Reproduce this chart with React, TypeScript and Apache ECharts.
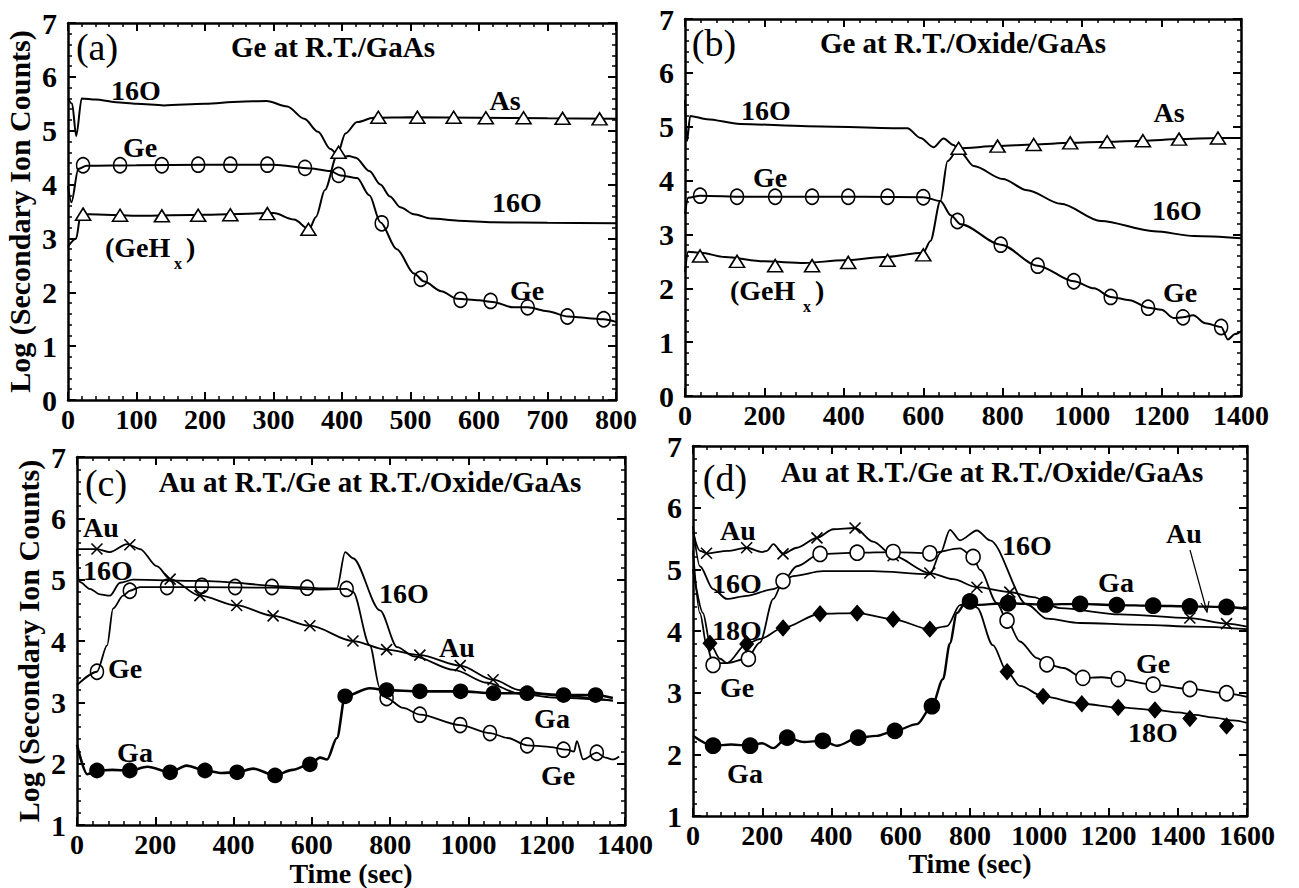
import React, { useEffect, useRef } from "react";
import * as echarts from "echarts";

const FONT = '"Liberation Serif", "Times New Roman", serif';

const xTicksA = [0, 100, 200, 300, 400, 500, 600, 700, 800];
const xTicksB = [0, 200, 400, 600, 800, 1000, 1200, 1400];
const xTicksC = [0, 200, 400, 600, 800, 1000, 1200, 1400];
const xTicksD = [0, 200, 400, 600, 800, 1000, 1200, 1400, 1600];
const yTicksAB = [0, 1, 2, 3, 4, 5, 6, 7];
const yTicksCD = [1, 2, 3, 4, 5, 6, 7];

const aO16 = [[0,5.6],[6,5.5],[12,4.9],[20,5.6],[40,5.58],[70,5.53],[100,5.5],[140,5.47],[200,5.5],[250,5.54],[290,5.55],[320,5.45],[345,5.22],[365,4.98],[383,4.66],[398,4.5],[410,4.53],[420,4.5],[440,4.25],[456,4.0],[470,3.78],[485,3.58],[505,3.45],[530,3.37],[570,3.33],[620,3.3],[700,3.29],[800,3.28]];
const aGe = [[0,3.97],[5,3.67],[15,4.29],[27,4.35],[100,4.36],[200,4.37],[300,4.37],[354,4.3],[383,4.25],[398,4.17],[422,4.12],[440,3.8],[456,3.3],[480,2.8],[505,2.35],[520,2.2],[545,2.02],[568,1.88],[600,1.85],[620,1.82],[650,1.72],[671,1.72],[700,1.65],[730,1.55],[760,1.52],[782,1.5],[800,1.45]];
const aGeMarks = [[22,4.36],[76,4.36],[137,4.36],[190,4.37],[237,4.37],[291,4.37],[346,4.31],[395,4.18],[458,3.28],[515,2.25],[573,1.86],[617,1.84],[671,1.72],[729,1.55],[782,1.5]];
const aAs = [[0,2.85],[12,3.0],[18,3.41],[30,3.45],[100,3.42],[200,3.44],[300,3.47],[330,3.35],[352,3.17],[362,3.4],[375,3.9],[393,4.55],[405,4.95],[422,5.16],[446,5.24],[500,5.25],[600,5.24],[700,5.23],[800,5.22]];
const aAsMarks = [[22,3.45],[76,3.43],[137,3.42],[190,3.43],[237,3.44],[291,3.46],[351,3.17],[395,4.6],[453,5.25],[510,5.25],[563,5.25],[610,5.24],[665,5.24],[722,5.23],[776,5.22]];

const bO16 = [[0,5.5],[5,4.73],[13,5.2],[55,5.14],[139,5.05],[308,5.01],[560,4.97],[593,4.79],[626,4.62],[651,4.78],[676,4.66],[694,4.52],[727,4.27],[800,4.03],[862,3.82],[946,3.57],[1047,3.25],[1181,3.06],[1282,2.97],[1400,2.93]];
const bGe = [[0,3.38],[8,3.68],[38,3.72],[150,3.7],[300,3.7],[450,3.7],[600,3.69],[643,3.62],[670,3.35],[694,3.19],[795,2.81],[888,2.42],[979,2.13],[1030,2.0],[1072,1.84],[1120,1.78],[1166,1.64],[1200,1.6],[1230,1.45],[1254,1.46],[1280,1.5],[1310,1.35],[1350,1.28],[1367,1.05],[1385,1.15],[1400,1.2]];
const bGeMarks = [[38,3.72],[131,3.7],[227,3.7],[320,3.7],[411,3.7],[510,3.7],[600,3.69],[686,3.25],[795,2.81],[888,2.42],[979,2.13],[1072,1.84],[1166,1.64],[1254,1.46],[1350,1.28]];
const bAs = [[0,2.3],[8,2.68],[40,2.66],[100,2.58],[200,2.5],[300,2.47],[400,2.52],[500,2.58],[600,2.66],[618,2.88],[643,3.62],[661,4.36],[689,4.6],[787,4.64],[878,4.67],[970,4.7],[1063,4.72],[1153,4.74],[1244,4.77],[1342,4.79],[1400,4.79]];
const bAsMarks = [[38,2.6],[131,2.5],[227,2.42],[320,2.42],[411,2.48],[510,2.52],[600,2.62],[689,4.6],[787,4.64],[878,4.67],[970,4.7],[1063,4.72],[1153,4.74],[1244,4.77],[1342,4.79]];

const cAu = [[0,5.5],[25,5.5],[51,5.5],[84,5.45],[128,5.58],[161,5.5],[204,5.22],[238,5.01],[314,4.74],[408,4.58],[501,4.41],[595,4.25],[705,4.0],[791,3.86],[876,3.77],[979,3.6],[1063,3.37],[1132,3.2],[1216,3.12],[1369,3.03]];
const cAuMarks = [[51,5.5],[135,5.57],[238,5.01],[314,4.74],[408,4.58],[501,4.41],[595,4.25],[705,4.0],[791,3.86],[876,3.77],[979,3.6],[1063,3.37]];
const cO16 = [[0,5.5],[4,5.0],[8,4.96],[33,4.85],[59,4.76],[84,4.74],[110,4.95],[143,5.0],[314,4.98],[570,4.88],[621,4.86],[664,4.86],[685,5.45],[705,5.35],[774,4.5],[818,3.9],[861,3.75],[963,3.53],[1047,3.32],[1132,3.14],[1216,3.08],[1369,3.03]];
const cGe = [[0,3.28],[51,3.5],[77,3.93],[92,4.53],[118,4.74],[135,4.82],[161,4.88],[300,4.88],[500,4.87],[621,4.84],[689,4.85],[705,4.8],[748,3.93],[774,3.23],[791,3.07],[833,2.91],[876,2.8],[979,2.63],[1055,2.5],[1100,2.42],[1150,2.3],[1200,2.28],[1252,2.23],[1270,2.2],[1277,2.37],[1293,2.07],[1328,2.18],[1350,2.1],[1369,2.07],[1385,2.12]];
const cGeMarks = [[51,3.5],[135,4.82],[230,4.88],[319,4.9],[404,4.88],[498,4.88],[588,4.87],[689,4.85],[791,3.07],[876,2.8],[979,2.63],[1055,2.5],[1150,2.3],[1243,2.23],[1328,2.18]];
const cGa = [[0,2.31],[26,1.83],[51,1.89],[90,1.9],[135,1.89],[180,1.95],[238,1.86],[280,1.97],[327,1.89],[370,1.85],[409,1.86],[450,1.92],[506,1.81],[550,1.9],[595,1.99],[621,2.1],[639,2.07],[664,2.42],[685,3.1],[748,3.23],[791,3.2],[876,3.18],[980,3.18],[1064,3.15],[1150,3.15],[1243,3.12],[1325,3.12],[1369,3.07]];
const cGaMarks = [[51,1.89],[135,1.89],[238,1.86],[327,1.89],[409,1.86],[506,1.81],[595,1.99],[685,3.1],[791,3.2],[876,3.18],[980,3.18],[1064,3.15],[1150,3.15],[1243,3.12],[1325,3.12]];

const dAu = [[0,5.6],[20,5.3],[39,5.26],[100,5.3],[155,5.35],[200,5.28],[213,5.3],[232,5.41],[260,5.25],[300,5.35],[358,5.51],[405,5.65],[468,5.67],[520,5.45],[578,5.22],[684,4.94],[751,4.84],[820,4.71],[915,4.63],[982,4.55],[1060,4.37],[1233,4.27],[1435,4.21],[1541,4.12],[1600,4.07]];
const dAuMarks = [[39,5.26],[155,5.35],[260,5.25],[358,5.51],[468,5.67],[578,5.22],[684,4.94],[820,4.71],[915,4.63],[1435,4.21],[1541,4.12]];
const dO16 = [[0,5.7],[20,5.05],[58,4.68],[98,4.52],[155,4.57],[232,4.68],[289,4.89],[375,4.97],[520,4.97],[684,4.92],[715,5.27],[742,5.64],[771,5.47],[820,5.63],[858,5.47],[965,4.43],[1022,4.2],[1118,4.13],[1300,4.1],[1450,4.07],[1600,4.03]];
const dGe = [[0,5.3],[20,4.29],[40,3.75],[58,3.48],[98,3.48],[155,3.55],[193,3.81],[232,4.52],[260,4.81],[300,5.05],[367,5.25],[474,5.27],[578,5.28],[684,5.26],[771,5.34],[809,5.2],[829,4.99],[878,4.45],[907,4.17],[944,3.83],[994,3.56],[1022,3.46],[1070,3.4],[1126,3.24],[1180,3.25],[1228,3.22],[1329,3.13],[1435,3.06],[1541,2.99],[1600,2.93]];
const dGeMarks = [[58,3.45],[160,3.55],[260,4.81],[367,5.25],[474,5.27],[578,5.28],[684,5.26],[809,5.2],[907,4.17],[1022,3.46],[1126,3.24],[1228,3.22],[1329,3.13],[1435,3.06],[1541,2.99]];
const dO18 = [[0,5.0],[29,4.29],[49,3.8],[78,3.55],[98,3.48],[155,3.79],[193,3.87],[260,4.05],[367,4.28],[474,4.29],[578,4.19],[684,4.03],[734,4.08],[771,4.42],[800,4.49],[820,4.38],[866,3.77],[907,3.34],[944,3.11],[1011,2.94],[1123,2.82],[1228,2.76],[1334,2.72],[1400,2.68],[1450,2.64],[1500,2.6],[1560,2.55],[1600,2.51]];
const dO18Marks = [[49,3.8],[155,3.79],[260,4.05],[367,4.28],[474,4.29],[578,4.19],[684,4.03],[907,3.34],[1011,2.94],[1123,2.82],[1228,2.76],[1334,2.72],[1435,2.58],[1541,2.46]];
const dGa = [[0,2.3],[58,2.14],[110,2.16],[165,2.14],[200,2.18],[232,2.1],[272,2.27],[320,2.2],[375,2.22],[416,2.14],[477,2.27],[530,2.3],[583,2.38],[647,2.49],[690,2.78],[722,3.22],[742,3.8],[762,4.29],[791,4.49],[809,4.42],[907,4.45],[1011,4.43],[1118,4.44],[1224,4.42],[1329,4.41],[1435,4.4],[1541,4.39],[1600,4.36]];
const dGaMarks = [[58,2.14],[165,2.14],[272,2.27],[375,2.22],[477,2.27],[583,2.38],[690,2.78],[800,4.48],[910,4.45],[1017,4.43],[1118,4.44],[1224,4.42],[1329,4.41],[1435,4.4],[1541,4.39]];

const CROSS = "path://M0,0L10,10M10,0L0,10";

const grids = [
  { left: 68, top: 23, width: 548, height: 377 },
  { left: 685, top: 19, width: 556, height: 377 },
  { left: 77, top: 457, width: 548, height: 371 },
  { left: 693, top: 446, width: 554, height: 370 },
];

type Curve = { line: number[][]; marks?: number[][]; symbol?: string; size?: any; fill?: string; lw?: number };

const panels: { xt: number[]; yt: number[]; curves: Curve[]; xName?: string; yName?: string }[] = [
  {
    xt: xTicksA, yt: yTicksAB, yName: "Log (Secondary Ion Counts)",
    curves: [
      { line: aO16 },
      { line: aGe, marks: aGeMarks, symbol: "circle", size: [13, 15], fill: "transparent" },
      { line: aAs, marks: aAsMarks, symbol: "triangle", size: [15, 12], fill: "#fff" },
    ],
  },
  {
    xt: xTicksB, yt: yTicksAB,
    curves: [
      { line: bO16 },
      { line: bGe, marks: bGeMarks, symbol: "circle", size: [13, 15], fill: "transparent" },
      { line: bAs, marks: bAsMarks, symbol: "triangle", size: [15, 12], fill: "#fff" },
    ],
  },
  {
    xt: xTicksC, yt: yTicksCD, yName: "Log (Secondary Ion Counts)", xName: "Time (sec)",
    curves: [
      { line: cO16, lw: 1.8 },
      { line: cAu, marks: cAuMarks, symbol: CROSS, size: 11, fill: "transparent", lw: 1.8 },
      { line: cGe, marks: cGeMarks, symbol: "circle", size: [13, 15], fill: "transparent", lw: 1.8 },
      { line: cGa, marks: cGaMarks, symbol: "circle", size: 14, fill: "#000", lw: 2.6 },
    ],
  },
  {
    xt: xTicksD, yt: yTicksCD, xName: "Time (sec)",
    curves: [
      { line: dO16, lw: 1.8 },
      { line: dAu, marks: dAuMarks, symbol: CROSS, size: 11, fill: "transparent", lw: 1.8 },
      { line: dGe, marks: dGeMarks, symbol: "circle", size: [14, 15], fill: "#fff", lw: 1.8 },
      { line: dO18, marks: dO18Marks, symbol: "diamond", size: [13, 15], fill: "#000", lw: 1.8 },
      { line: dGa, marks: dGaMarks, symbol: "circle", size: 15, fill: "#000", lw: 2.4 },
    ],
  },
];

const labelStyle = { fontFamily: FONT, fontWeight: "bold" as const, fontSize: 28, color: "#000" };
const plain = (v: number) => String(v);

function buildOption() {
  const xAxis: any[] = [];
  const yAxis: any[] = [];
  const series: any[] = [];
  panels.forEach((p, i) => {
    const xmin = p.xt[0], xmax = p.xt[p.xt.length - 1], xint = p.xt[1] - p.xt[0];
    const ymin = p.yt[0], ymax = p.yt[p.yt.length - 1];
    const common = {
      type: "value", gridIndex: i, splitLine: { show: false },
      axisLine: { show: true, onZero: false, lineStyle: { color: "#000", width: 2.5 } },
      axisTick: { show: true, inside: false, length: -8, lineStyle: { color: "#000", width: 2 } },
      minorTick: { show: true, splitNumber: 5, length: -4, lineStyle: { color: "#000", width: 1.5 } },
    };
    xAxis.push({
      ...common, position: "bottom", min: xmin, max: xmax, interval: xint,
      axisLabel: { ...labelStyle, margin: 5, formatter: plain },
      name: p.xName || "", nameLocation: "middle", nameGap: 33,
      nameTextStyle: { ...labelStyle, fontSize: 28 },
    });
    xAxis.push({ ...common, position: "top", min: xmin, max: xmax, interval: xint, axisLabel: { show: false } });
    yAxis.push({
      ...common, position: "left", min: ymin, max: ymax, interval: 1,
      axisLabel: { ...labelStyle, fontSize: 30, margin: 11, formatter: plain },
      name: p.yName || "", nameLocation: "middle", nameGap: 34, nameRotate: 90,
      nameTextStyle: { ...labelStyle, fontSize: 30 },
    });
    yAxis.push({ ...common, position: "right", min: ymin, max: ymax, interval: 1, axisLabel: { show: false } });
    p.curves.forEach((c) => {
      series.push({
        type: "line", xAxisIndex: 2 * i, yAxisIndex: 2 * i, data: c.line,
        showSymbol: false, symbol: "none", smooth: 0.3, smoothMonotone: "x",
        lineStyle: { color: "#000", width: c.lw || 2 }, silent: true, z: 2,
      });
      if (c.marks) {
        series.push({
          type: "scatter", xAxisIndex: 2 * i, yAxisIndex: 2 * i, data: c.marks,
          symbol: c.symbol, symbolSize: c.size,
          itemStyle: { color: c.fill, borderColor: "#000", borderWidth: 1.6, opacity: 1 },
          silent: true, z: 3,
        });
      }
    });
  });

  const txt = (text: string, x: number, y: number, size = 28, weight = "bold", align = "center") => ({
    type: "text", x, y, silent: true, z: 10,
    style: {
      text, fill: "#000", fontFamily: FONT, fontSize: size, fontWeight: weight,
      textAlign: align, textVerticalAlign: "middle", align, verticalAlign: "middle",
    },
  });

  const graphic: any[] = [
    txt("(a)", 97, 47, 38, "normal"),
    txt("Ge at R.T./GaAs", 333, 47, 29),
    txt("16O", 136, 90), txt("Ge", 140, 147),
    txt("(GeH", 105, 247, 28, "bold", "left"), txt("x", 174, 263, 16, "bold", "left"), txt(")", 186, 247, 28, "bold", "left"),
    txt("As", 505, 100), txt("16O", 517, 202), txt("Ge", 527, 290),
    txt("(b)", 714, 43, 38, "normal"),
    txt("Ge at R.T./Oxide/GaAs", 963, 43, 29),
    txt("16O", 766, 110), txt("Ge", 770, 177),
    txt("(GeH", 730, 290, 28, "bold", "left"), txt("x", 803, 306, 16, "bold", "left"), txt(")", 815, 290, 28, "bold", "left"),
    txt("As", 1169, 112), txt("16O", 1177, 210), txt("Ge", 1180, 292),
    txt("(c)", 106, 483, 38, "normal"),
    txt("Au at R.T./Ge at R.T./Oxide/GaAs", 370, 482, 29),
    txt("Au", 101, 527), txt("16O", 108, 570), txt("Ge", 125, 668), txt("Ga", 135, 752),
    txt("16O", 404, 593), txt("Au", 457, 647), txt("Ga", 552, 718), txt("Ge", 558, 775),
    txt("(d)", 725, 478, 38, "normal"),
    txt("Au at R.T./Ge at R.T./Oxide/GaAs", 992, 472, 29),
    txt("Au", 738, 530), txt("16O", 737, 583), txt("18O", 737, 630), txt("Ge", 737, 687), txt("Ga", 745, 773),
    txt("16O", 1027, 545), txt("Au", 1184, 533), txt("Ga", 1116, 582), txt("Ge", 1153, 663), txt("18O", 1153, 732),
    { type: "line", silent: true, z: 10, shape: { x1: 1190, y1: 550, x2: 1207, y2: 612 }, style: { stroke: "#000", lineWidth: 1.2 } },
    { type: "polyline", silent: true, z: 10, shape: { points: [[1201, 603], [1207, 612], [1209, 601]] }, style: { stroke: "#000", lineWidth: 1.2, fill: "none" } },
  ];

  return { animation: false, backgroundColor: "#fff", grid: grids, xAxis, yAxis, series, graphic };
}

export default function App() {
  const ref = useRef<HTMLDivElement>(null);
  useEffect(() => {
    if (!ref.current) return;
    const chart = echarts.init(ref.current, undefined, { renderer: "svg" });
    chart.setOption(buildOption() as any);
    return () => chart.dispose();
  }, []);
  return (
    <div
      ref={ref}
      style={{ position: "fixed", left: 0, top: 0, width: 1299, height: 888, background: "#fff" }}
    />
  );
}
